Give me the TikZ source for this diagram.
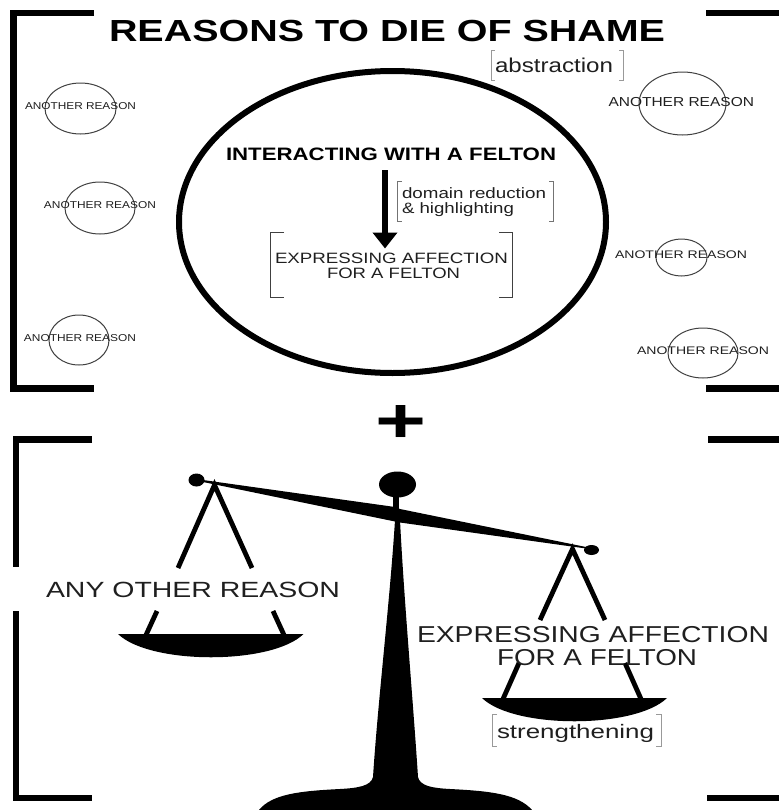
\documentclass[tikz,border=0pt]{standalone}
\usepackage{graphicx}
\usepackage{fontspec}
\setmainfont{Liberation Sans}
\usetikzlibrary{arrows.meta}
\newlength{\unitpx}\setlength{\unitpx}{0.75pt}
\newlength{\fsz}
\newcommand{\tx}[3]{\setlength{\fsz}{#1pt}\setlength{\fsz}{0.75\fsz}\resizebox{#2\unitpx}{\height}{\fontsize{\the\fsz}{\the\fsz}\selectfont #3}}
\tikzset{
  lab/.style={inner sep=0pt,outer sep=0pt,anchor=base west,text=black!88},
  heavy/.style={line width=4.6pt,line cap=butt,line join=miter},
  hanger/.style={line width=3.6pt,line cap=butt},
  smallc/.style={line width=0.75pt,draw=black!75},
  brk/.style={line width=0.75pt,line cap=butt,line join=miter}
}
\begin{document}
\begin{tikzpicture}[x=0.75pt,y=-0.75pt]
\useasboundingbox (0,0) rectangle (779,810);
% outer brackets
\draw[heavy] (94,13) -| (13.5,388.5) -- (94,388.5);
\draw[heavy] (92,439.5) -| (16,567);
\draw[heavy] (16,611) |- (92,798);
\draw[heavy] (706,13) -- (779,13);
\draw[heavy] (706,388.5) -- (779,388.5);
\draw[heavy] (708,439.5) -- (779,439.5);
\draw[heavy] (707,798) -- (779,798);
% small circles
\draw[smallc] (80.5,108.5) ellipse (35.5 and 25.5);
\draw[smallc] (100,208) ellipse (35 and 26);
\draw[smallc] (79,340) ellipse (30 and 25);
\draw[smallc] (682.5,103.5) ellipse (43.5 and 31.5);
\draw[smallc] (681.5,257.5) ellipse (25.5 and 18.5);
\draw[smallc] (703,353) ellipse (35 and 25);
% big circle
\draw[line width=4.5pt] (392.5,222) ellipse (213.5 and 151);
% arrow
\coordinate (arrowstart) at (385,170);
\coordinate (arrowend) at (385,248.5);
\draw[line width=4.5pt,-{Triangle[length=12pt,width=18pt]}] (arrowstart) -- (arrowend);
% thin brackets
\draw[brk,draw=black!40] (495,50) -| (491,80) -- (495,80);
\draw[brk,draw=black!40] (619,50) -| (623,80) -- (619,80);
\draw[brk,draw=black!55] (402,181) -| (397.5,221) -- (402,221);
\draw[brk,draw=black!55] (549,181) -| (553.5,221) -- (549,221);
\draw[brk,draw=black!75] (284,232.5) -| (270.5,297) -- (284,297);
\draw[brk,draw=black!75] (499,232.5) -| (512.5,297) -- (499,297);
% scale
\fill (397.5,484.5) ellipse (18.5 and 13);
\fill (196.5,480) ellipse (8 and 6.5);
\fill (591.5,550) ellipse (7.5 and 5);
\fill (393,495) rectangle (398.5,510);
\fill (203,480) -- (395,507) -- (400,509) -- (586,547) -- (586,548.5) -- (400,522.5) -- (395,521.5) -- (203,482) -- cycle;
\fill (395,520) .. controls (390,600) and (378,700) .. (373,777)
  .. controls (371,786) and (358,788) .. (340,789)
  .. controls (300,791) and (272,794) .. (259,810)
  -- (532,810)
  .. controls (518,794) and (490,791) .. (450,789)
  .. controls (432,788) and (420,786) .. (418,777)
  .. controls (413,700) and (404,600) .. (400,520) -- cycle;
\draw[hanger] (178,568) -- (214.5,485) -- (252,568);
\draw[hanger] (157,611) -- (146,635);
\draw[hanger] (273,611) -- (284,635);
\fill (118,634) .. controls (150,665) and (272,665) .. (303.5,634) -- cycle;
\draw[hanger] (540,620) -- (572.5,549) -- (605,620);
\draw[hanger] (519,663) -- (503,699);
\draw[hanger] (625,663) -- (641,699);
\fill (482,698) .. controls (514,729) and (635,729) .. (667,698) -- cycle;
\draw[brk,draw=black!40] (497,714.5) -| (492,746) -- (497,746);
\draw[brk,draw=black!40] (656,714.5) -| (661,746) -- (656,746);
% texts
\node[lab,text=black] (title) at (109,41.5) {\tx{30.5}{556}{\bfseries REASONS TO DIE OF SHAME}};
\node[lab] (abst) at (495,72.5) {\tx{20}{118}{abstraction}};
\node[lab,text=black] (inter) at (226,160.5) {\tx{18}{330}{\bfseries INTERACTING WITH A FELTON}};
\node[lab] (dom) at (402,198.5) {\tx{15}{144}{domain reduction}};
\node[lab] (hig) at (402,213.5) {\tx{15}{112}{\& highlighting}};
\node[lab] (expa) at (275,263) {\tx{15}{233}{EXPRESSING AFFECTION}};
\node[lab] (expb) at (327,278) {\tx{15}{133}{FOR A FELTON}};
\node[lab] (r1) at (25,109.5) {\tx{10}{111}{ANOTHER REASON}};
\node[lab] (r2) at (44,208.5) {\tx{10}{112}{ANOTHER REASON}};
\node[lab] (r3) at (24,341.5) {\tx{10}{112}{ANOTHER REASON}};
\node[lab] (r4) at (608.5,106) {\tx{13}{145.5}{ANOTHER REASON}};
\node[lab] (r5) at (615,258) {\tx{11}{132}{ANOTHER REASON}};
\node[lab] (r6) at (637,354) {\tx{11}{132}{ANOTHER REASON}};
\node[lab,text=black] (plus) at (375,442) {\resizebox{51\unitpx}{37\unitpx}{\bfseries +}};
\node[lab] (any) at (46,597) {\tx{22}{294}{ANY OTHER REASON}};
\node[lab] (afa) at (417,642) {\tx{23}{352}{EXPRESSING AFFECTION}};
\node[lab] (afb) at (497,665) {\tx{23}{200}{FOR A FELTON}};
\node[lab] (str) at (497,738) {\tx{19.5}{157}{strengthening}};
\end{tikzpicture}
\end{document}
